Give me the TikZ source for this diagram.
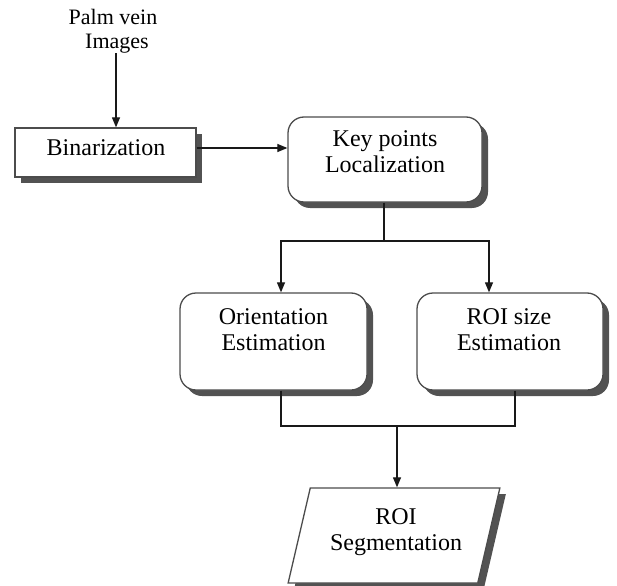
\documentclass[tikz,border=0pt]{standalone}
\usepackage{fontspec}
\setmainfont{Liberation Serif}
\usetikzlibrary{shapes.geometric,shadows,arrows.meta}

\begin{document}
\begin{tikzpicture}[x=1pt,y=-1pt,
  boxline/.style={draw=black!70, line width=1.3pt, fill=white,
    drop shadow={shadow xshift=6pt, shadow yshift=-6pt, fill=black!68, opacity=1}},
  plainbox/.style={boxline, rectangle, inner sep=0pt},
  roundbox/.style={boxline, rectangle, rounded corners=16pt, inner sep=0pt},
  slantbox/.style={boxline, trapezium, trapezium left angle=82, trapezium right angle=98,
    trapezium stretches=true, inner sep=2pt},
  lbl/.style={align=center, inner sep=0pt, font=\fontsize{24}{26}\selectfont},
  srclbl/.style={align=center, inner sep=0pt, font=\fontsize{22}{24}\selectfont},
  conn/.style={draw=black!90, line width=1.2pt},
  arr/.style={conn, -{Triangle[length=10pt,width=8pt]}}]

\useasboundingbox (0,0) rectangle (617,585);

% process boxes
\node[plainbox, minimum width=181pt, minimum height=49pt] (bin) at (105.5,152.5) {};
\node[roundbox, minimum width=194pt, minimum height=85pt] (key) at (385,159.5) {};
\node[roundbox, minimum width=187pt, minimum height=97pt] (ori) at (273.5,341.5) {};
\node[roundbox, minimum width=186pt, minimum height=97pt] (roi) at (510,341.5) {};
\node[slantbox, minimum width=212pt, minimum height=95pt] (seg) at (394,535.5) {\phantom{X}};

% labels
\node[srclbl] (src) at (113,31) {Palm vein\\\hspace*{8pt}Images};
\node[lbl] (binT) at (106,148) {Binarization};
\node[lbl] (keyT) at (385,152) {Key points\\Localization};
\node[lbl] (oriT) at (273.5,330) {Orientation\\Estimation};
\node[lbl] (roiT) at (509,330) {ROI size\\Estimation};
\node[lbl] (segT) at (396,532) {ROI\\Segmentation};

% routing points
\coordinate (srcX) at (116,0);
\coordinate (split) at (384,241);
\coordinate (oriX) at (281,0);
\coordinate (roiX) at (489,0);
\coordinate (roiOut) at (515,0);
\coordinate (merge) at (397,426);

% connectors
\draw[arr] (src.south -| srcX) -- (bin.north -| srcX);
\draw[arr] (bin.east |- binT) -- (key.west |- binT);
\draw[conn] (key.south -| split) -- (split);
\draw[arr] (split) -| (ori.north -| oriX);
\draw[arr] (split) -| (roi.north -| roiX);
\draw[conn] (ori.south -| oriX) |- (merge);
\draw[conn] (roi.south -| roiOut) |- (merge);
\draw[arr] (merge) -- (seg.north -| merge);

\end{tikzpicture}
\end{document}
